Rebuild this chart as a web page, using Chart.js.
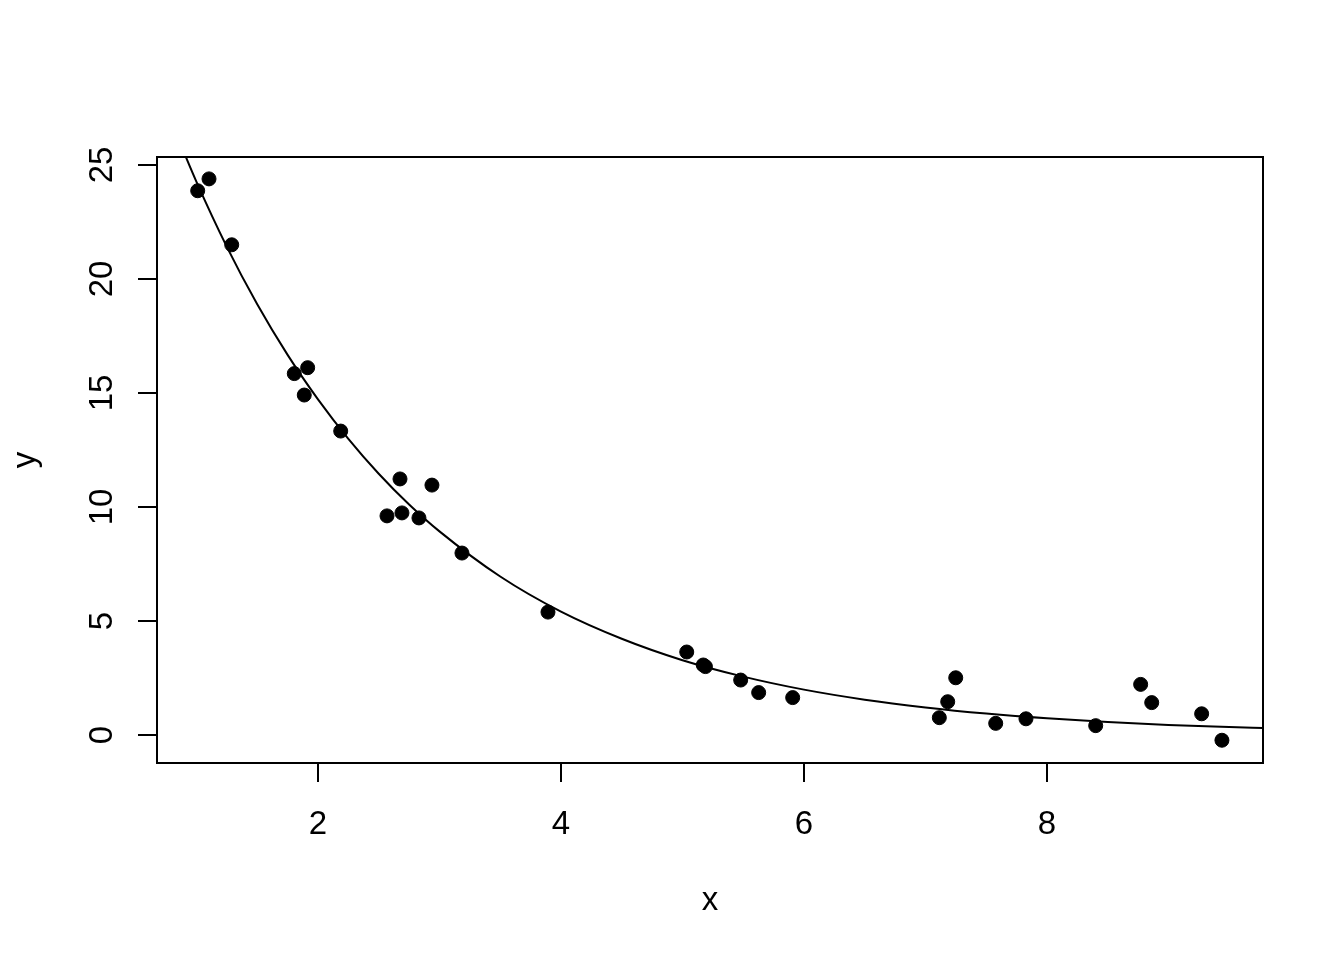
<!DOCTYPE html>
<html>
<head>
<meta charset="utf-8">
<script src="https://cdn.jsdelivr.net/npm/chart.js@4"></script>
<style>
  html, body { margin: 0; padding: 0; background: #fff; }
  canvas { display: block; }
</style>
</head>
<body>
<canvas id="myChart" width="1344" height="960"></canvas>
<script>
    // observed points
    const xValues = [1.010, 1.103, 1.290, 1.805, 1.915, 1.887, 2.187, 2.568, 2.675, 2.691,
                     2.831, 2.938, 3.185, 3.893, 5.035, 5.171, 5.189, 5.479, 5.627, 5.907,
                     7.114, 7.183, 7.249, 7.578, 7.827, 8.401, 8.771, 8.862, 9.273, 9.440];
    const yValues = [23.87, 24.39, 21.50, 15.85, 16.11, 14.91, 13.33, 9.61, 11.23, 9.74,
                     9.52, 10.96, 7.98, 5.39, 3.64, 3.07, 3.00, 2.41, 1.86, 1.64,
                     0.76, 1.46, 2.51, 0.51, 0.71, 0.41, 2.22, 1.42, 0.93, -0.23];

    // fitted curve
    const curveX = [0.85, 1.0, 1.25, 1.5, 1.75, 2.0, 2.25, 2.5, 2.75, 3.0, 3.5, 4.0,
                    4.5, 5.0, 5.5, 6.0, 6.5, 7.0, 7.5, 8.0, 8.5, 9.0, 9.5, 9.8];
    const curveY = [26.15, 24.26, 21.41, 18.89, 16.67, 14.72, 12.99, 11.46, 10.11, 8.93, 6.95, 5.41,
                    4.22, 3.28, 2.56, 1.99, 1.55, 1.21, 0.94, 0.73, 0.57, 0.44, 0.35, 0.30];

    // axis ticks
    const xTicks = [2, 4, 6, 8];
    const yTicks = [0, 5, 10, 15, 20, 25];
    const xTitle = 'x';
    const yTitle = 'y';

    const FONT = '33px "Liberation Sans", Arial, sans-serif';

    // R style box, ticks and labels
    const baseAxes = {
      id: 'baseAxes',
      afterDraw(chart) {
        const { ctx, chartArea: { top, bottom, left, right }, scales: { x, y } } = chart;
        ctx.save();
        ctx.strokeStyle = '#000';
        ctx.lineWidth = 2;
        ctx.strokeRect(left, top, right - left, bottom - top);

        ctx.fillStyle = '#000';
        ctx.font = FONT;
        ctx.textAlign = 'center';
        ctx.textBaseline = 'alphabetic';

        xTicks.forEach(t => {
          const px = Math.round(x.getPixelForValue(t));
          ctx.beginPath();
          ctx.moveTo(px, bottom);
          ctx.lineTo(px, bottom + 19);
          ctx.stroke();
          ctx.fillText(String(t), px, bottom + 71);
        });

        yTicks.forEach(t => {
          const py = Math.round(y.getPixelForValue(t));
          ctx.beginPath();
          ctx.moveTo(left, py);
          ctx.lineTo(left - 19, py);
          ctx.stroke();
          ctx.save();
          ctx.translate(left - 45, py);
          ctx.rotate(-Math.PI / 2);
          ctx.fillText(String(t), 0, 0);
          ctx.restore();
        });

        // axis titles
        ctx.fillText(xTitle, (left + right) / 2, bottom + 147);
        ctx.save();
        ctx.translate(left - 122, (top + bottom) / 2);
        ctx.rotate(-Math.PI / 2);
        ctx.fillText(yTitle, 0, 0);
        ctx.restore();

        ctx.restore();
      },
    };

    const config = {
      type: 'scatter',
      data: {
        datasets: [
          {
            label: 'fit',
            type: 'line',
            data: curveX.map((v, i) => ({ x: v, y: curveY[i] })),
            borderColor: '#000',
            borderWidth: 2,
            pointRadius: 0,
            fill: false,
            cubicInterpolationMode: 'monotone',
          },
          {
            label: 'data',
            data: xValues.map((v, i) => ({ x: v, y: yValues[i] })),
            backgroundColor: '#000',
            borderColor: '#000',
            borderWidth: 1,
            pointRadius: 7,
          },
        ],
      },
      options: {
        responsive: false,
        animation: false,
        layout: { padding: { left: 157, top: 157, right: 81, bottom: 197 } },
        plugins: {
          legend: { display: false },
          tooltip: { enabled: false },
        },
        scales: {
          x: { type: 'linear', min: 0.675, max: 9.778, display: false },
          y: { type: 'linear', min: -1.228, max: 25.35, display: false },
        },
      },
      plugins: [baseAxes],
    };

    const myChart = new Chart(document.getElementById('myChart'), config);
</script>
</body>
</html>
